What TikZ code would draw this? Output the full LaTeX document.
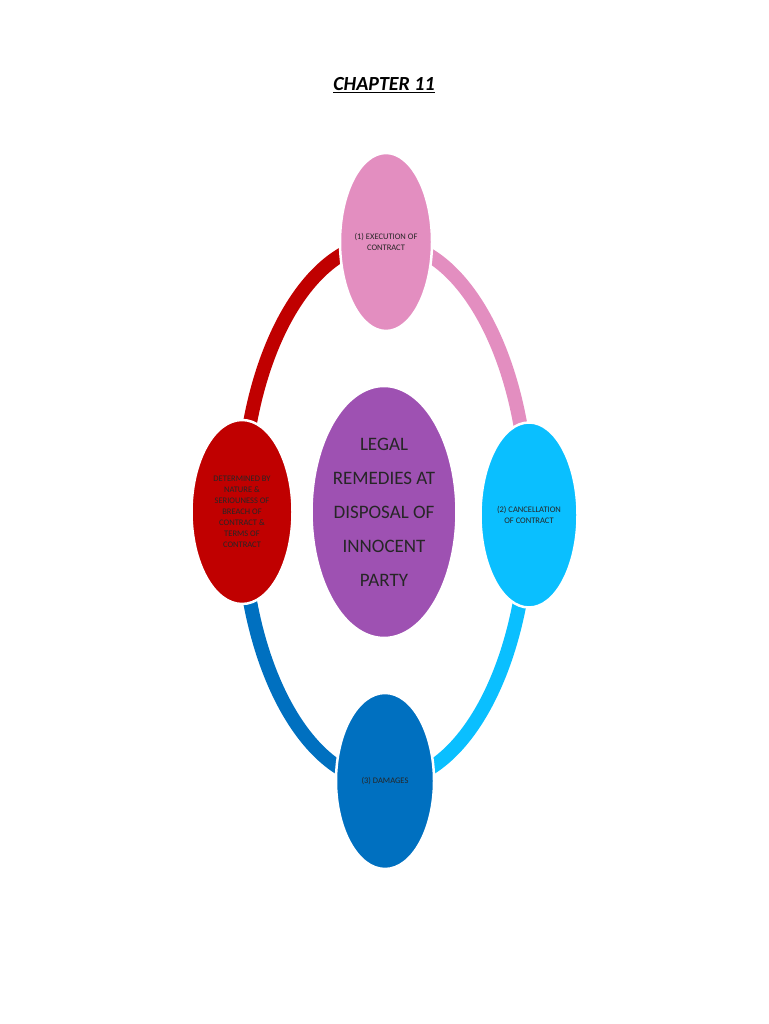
\documentclass[tikz,border=0pt]{standalone}
\usepackage{fontspec}
\setmainfont{Carlito}
\usetikzlibrary{shapes.geometric}
\begin{document}
\begin{tikzpicture}[x=1pt,y=1pt,
  sat/.style={ellipse,draw=white,line width=2.5pt,inner sep=0pt,align=center,font=\fontsize{8.5}{11}\selectfont,text=black!85},
  ring/.style={line width=14pt}]
\useasboundingbox (0,0) rectangle (768,1024);
\definecolor{cpink}{HTML}{E38EC0}
\definecolor{ccyan}{HTML}{0ABFFF}
\definecolor{cblue}{HTML}{0070C0}
\definecolor{cred}{HTML}{C00000}
\definecolor{cpurp}{HTML}{9E51B2}
\coordinate (c) at (385,512);
\draw[ring,cpink] (385,782) arc[start angle=90,end angle=0,x radius=143,y radius=270];
\draw[ring,ccyan] (528,512) arc[start angle=0,end angle=-90,x radius=143,y radius=270];
\draw[ring,cblue] (385,242) arc[start angle=-90,end angle=-180,x radius=143,y radius=270];
\draw[ring,cred] (242,512) arc[start angle=180,end angle=90,x radius=143,y radius=270];
\node[sat,fill=cpurp,minimum width=134,minimum height=252,font=\fontsize{19}{34}\selectfont] (m) at (384,512) {LEGAL\\REMEDIES AT\\DISPOSAL OF\\INNOCENT\\PARTY};
\node[sat,fill=cpink,minimum width=92,minimum height=178] (t) at (386,782) {(1) EXECUTION OF\\CONTRACT};
\node[sat,fill=ccyan,minimum width=97,minimum height=185] (r) at (529,509) {(2) CANCELLATION\\OF CONTRACT};
\node[sat,fill=cblue,minimum width=98,minimum height=176] (b) at (385,243) {(3) DAMAGES};
\node[sat,fill=cred,minimum width=101,minimum height=184] (l) at (242,512) {DETERMINED BY\\NATURE \&\\SERIOUNESS OF\\BREACH OF\\CONTRACT \&\\TERMS OF\\CONTRACT};
\node[font=\fontsize{20}{24}\selectfont\bfseries\itshape] (title) at (384,939) {\underline{CHAPTER 11}};
\end{tikzpicture}
\end{document}
